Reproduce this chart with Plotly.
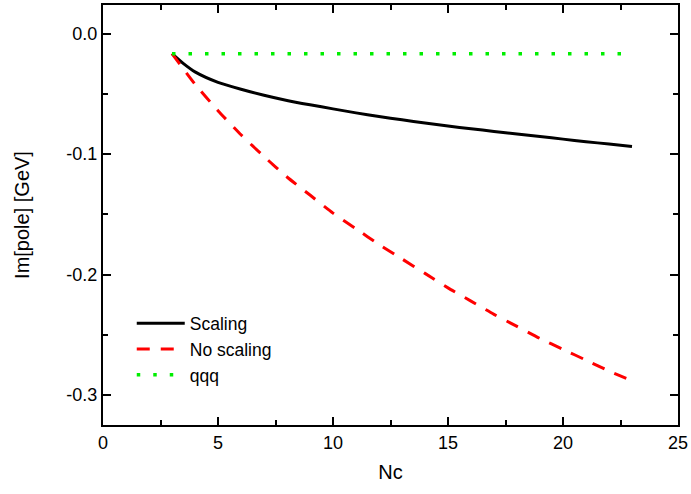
import plotly.graph_objects as go

nc = [3, 3.5, 4, 5, 6, 7, 8, 9, 10, 11, 12, 13, 14, 15, 16, 17, 18, 19, 20, 21, 22, 23]
scaling = [-0.0167, -0.0250, -0.0318, -0.0405, -0.0462, -0.0512, -0.0555, -0.0591, -0.0625,
           -0.0658, -0.0688, -0.0716, -0.0742, -0.0767, -0.0790, -0.0812, -0.0834, -0.0855,
           -0.0876, -0.0897, -0.0917, -0.0937]
no_scaling = [-0.0167, -0.0295, -0.042, -0.064, -0.084, -0.102, -0.119, -0.134, -0.149, -0.162,
              -0.175, -0.187, -0.199, -0.211, -0.222, -0.233, -0.243, -0.253, -0.262,
              -0.271, -0.280, -0.288]
qqq = [-0.0167] * len(nc)

fig = go.Figure()
fig.add_trace(go.Scatter(x=nc, y=scaling, mode="lines", name="Scaling",
                         line=dict(color="black", width=3, shape="spline", smoothing=0.6)))
fig.add_trace(go.Scatter(x=nc, y=no_scaling, mode="lines", name="No scaling",
                         line=dict(color="#ff0000", width=3, dash="13px,11px",
                                   shape="spline", smoothing=0.6)))
fig.add_trace(go.Scatter(x=nc, y=qqq, mode="lines", name="qqq",
                         line=dict(color="#00ee00", width=3.5, dash="3.5px,13px")))

font = dict(family="Liberation Sans, Arial, sans-serif", color="black")

fig.update_layout(
    width=691, height=494,
    margin=dict(l=103, r=11, t=3, b=69),
    paper_bgcolor="white", plot_bgcolor="white",
    font=dict(**font, size=18),
    showlegend=True,
    legend=dict(x=0.05, y=0.285, xanchor="left", yanchor="top",
                bgcolor="rgba(0,0,0,0)", font=dict(**font, size=17.5),
                tracegroupgap=0, itemwidth=48),
    xaxis=dict(range=[0, 25], tickvals=[0, 5, 10, 15, 20, 25],
               ticks="inside", ticklen=8, tickwidth=1.5, tickcolor="black",
               minor=dict(ticks="inside", ticklen=5, dtick=2.5, tickwidth=1.5, tickcolor="black"),
               showline=True, linecolor="black", linewidth=2, mirror="ticks",
               showgrid=False, zeroline=False,
               tickfont=dict(**font, size=18),
               title=dict(text="Nc", font=dict(**font, size=20), standoff=13)),
    yaxis=dict(range=[-0.3248, 0.0237], tickvals=[0.0, -0.1, -0.2, -0.3],
               ticktext=["0.0", "-0.1", "-0.2", "-0.3"],
               ticks="inside", ticklen=8, tickwidth=1.5, tickcolor="black",
               minor=dict(ticks="inside", ticklen=5, dtick=0.05, tickwidth=1.5, tickcolor="black"),
               showline=True, linecolor="black", linewidth=2, mirror="ticks",
               showgrid=False, zeroline=False,
               tickfont=dict(**font, size=18),
               title=dict(text="Im[pole] [GeV]", font=dict(**font, size=20), standoff=31)),
)

fig.write_html("out.html")
